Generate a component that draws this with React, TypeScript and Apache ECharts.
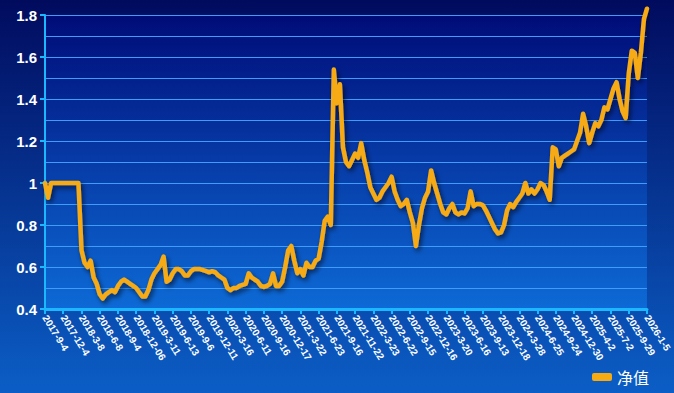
import React, { useEffect, useRef } from "react";
import * as echarts from "echarts";

const tickLabels: string[] = [
  "2017-9-4", "2017-12-4", "2018-3-8", "2018-6-8", "2018-9-4", "2018-12-06",
  "2019-3-11", "2019-6-13", "2019-9-6", "2019-12-11", "2020-3-16", "2020-6-11",
  "2020-9-16", "2020-12-17", "2021-3-22", "2021-6-23", "2021-9-16", "2021-11-22",
  "2022-3-23", "2022-6-22", "2022-9-15", "2022-12-16", "2023-3-20", "2023-6-16",
  "2023-9-13", "2023-12-18", "2024-3-28", "2024-6-25", "2024-9-24", "2024-12-30",
  "2025-4-2", "2025-7-2", "2025-9-29", "2026-1-5",
];

const pointsPerTick = 6;

const navValues: number[] = [
  1.0, 0.93, 1.0, 1.0, 1.0, 1.0,
  1.0, 1.0, 1.0, 1.0, 1.0, 1.0,
  0.68, 0.62, 0.6, 0.63, 0.55, 0.52,
  0.47, 0.45, 0.47, 0.48, 0.49, 0.48,
  0.51, 0.53, 0.54, 0.53, 0.52, 0.51,
  0.5, 0.48, 0.46, 0.46, 0.49, 0.54,
  0.57, 0.59, 0.61, 0.65, 0.53, 0.54,
  0.57, 0.59, 0.59, 0.58, 0.56, 0.56,
  0.58, 0.59, 0.59, 0.59, 0.585, 0.58,
  0.575, 0.58, 0.575, 0.56, 0.55, 0.54,
  0.5, 0.49, 0.5, 0.5, 0.51, 0.515,
  0.52, 0.57, 0.55, 0.54, 0.53, 0.51,
  0.505, 0.51, 0.52, 0.57, 0.51, 0.51,
  0.53, 0.6, 0.68, 0.7, 0.63, 0.57,
  0.59, 0.56, 0.62, 0.6, 0.6, 0.63,
  0.64, 0.72, 0.82, 0.84, 0.8, 1.54,
  1.38, 1.47, 1.17, 1.1, 1.08, 1.11,
  1.14, 1.12, 1.19, 1.11, 1.05, 0.98,
  0.95, 0.92, 0.93, 0.96, 0.98, 1.0,
  1.03, 0.96, 0.92, 0.89, 0.9, 0.92,
  0.86, 0.81, 0.7, 0.8, 0.88, 0.93,
  0.96, 1.06, 1.0, 0.95, 0.9, 0.86,
  0.85, 0.88, 0.9, 0.86, 0.85, 0.86,
  0.855, 0.88, 0.96, 0.89, 0.9, 0.9,
  0.895, 0.87, 0.84, 0.81, 0.78, 0.76,
  0.765, 0.8, 0.87, 0.9, 0.885, 0.91,
  0.93, 0.95, 1.0, 0.95, 0.97, 0.95,
  0.97, 1.0, 0.99, 0.96, 0.92, 1.17,
  1.16, 1.08, 1.12, 1.13, 1.14, 1.15,
  1.16, 1.2, 1.24, 1.33, 1.27, 1.19,
  1.24, 1.285, 1.27, 1.3, 1.36, 1.35,
  1.4, 1.45, 1.48, 1.4, 1.34, 1.31,
  1.52, 1.63, 1.62, 1.5, 1.62, 1.78,
  1.83,
];

const seriesName = "净值";

export default function App() {
  const ref = useRef<HTMLDivElement>(null);
  useEffect(() => {
    document.body.style.margin = "0";
    if (!ref.current) return;
    const chart = echarts.init(ref.current, null, { renderer: "svg" });
    const seriesData = navValues.map((v, i) => [i, v]);
    const axisBlue = "#1cb8ff";
    const gridBlue = "#3f9df7";
    chart.setOption({
      animation: false,
      backgroundColor: new echarts.graphic.LinearGradient(0, 0, 0, 1, [
        { offset: 0, color: "#010b5e" },
        { offset: 1, color: "#0b5ec6" },
      ]),
      textStyle: { fontFamily: "Arial, 'Liberation Sans', sans-serif" },
      grid: {
        left: 45,
        right: 25,
        top: 15,
        bottom: 84,
        show: true,
        borderWidth: 0,
        backgroundColor: new echarts.graphic.LinearGradient(0, 0, 0, 1, [
          { offset: 0, color: "#000c78" },
          { offset: 1, color: "#0d6ad6" },
        ]),
      },
      legend: {
        right: 20,
        top: 364,
        itemWidth: 20,
        itemHeight: 8,
        itemGap: 10,
        icon: "roundRect",
        textStyle: {
          color: "#ffffff",
          fontSize: 16,
          fontFamily: "'Noto Sans CJK SC', sans-serif",
        },
        data: [seriesName],
      },
      xAxis: {
        type: "value",
        min: 0,
        max: (tickLabels.length - 1) * pointsPerTick,
        interval: pointsPerTick,
        axisLine: { show: true, lineStyle: { color: axisBlue, width: 3 } },
        axisTick: { show: true, length: 5, lineStyle: { color: axisBlue, width: 2 } },
        splitLine: { show: false },
        axisLabel: {
          color: "#ffffff",
          fontSize: 10,
          fontWeight: "bold",
          rotate: -58,
          margin: 7,
          showMinLabel: true,
          showMaxLabel: true,
          formatter: (v: number) => tickLabels[Math.round(v / pointsPerTick)] ?? "",
        },
      },
      yAxis: {
        type: "value",
        min: 0.4,
        max: 1.8,
        interval: 0.2,
        axisLine: { show: true, lineStyle: { color: axisBlue, width: 2 } },
        axisTick: { show: true, length: 5, lineStyle: { color: axisBlue, width: 2 } },
        axisLabel: {
          color: "#ffffff",
          fontSize: 15,
          fontWeight: "bold",
          margin: 8,
          formatter: (v: number) => String(Math.round(v * 10) / 10),
        },
        splitLine: { show: true, lineStyle: { color: gridBlue, width: 1 } },
        minorTick: { show: false, splitNumber: 2 },
        minorSplitLine: { show: true, lineStyle: { color: gridBlue, width: 1 } },
      },
      series: [
        {
          name: seriesName,
          type: "line",
          data: seriesData,
          showSymbol: false,
          symbol: "none",
          clip: false,
          color: "#f6ab12",
          lineStyle: {
            color: "#f6ab12",
            width: 4.5,
            join: "round",
            cap: "round",
            shadowColor: "rgba(0,0,20,0.6)",
            shadowBlur: 5,
            shadowOffsetX: 2,
            shadowOffsetY: 3,
          },
        },
      ],
    });
    return () => chart.dispose();
  }, []);
  return <div ref={ref} style={{ width: 674, height: 393 }} />;
}
